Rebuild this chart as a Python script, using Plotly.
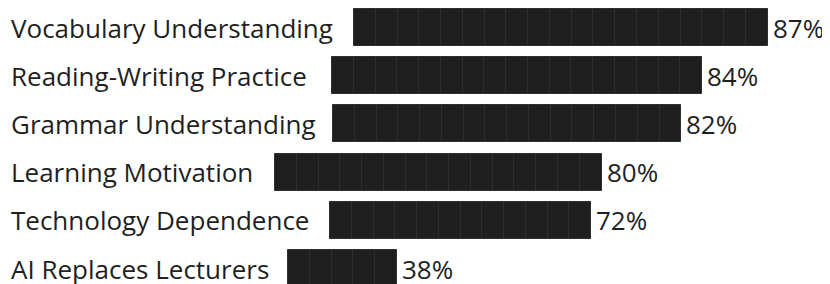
import plotly.graph_objects as go

# ---- data ----
categories = ["Vocabulary Understanding", "Reading-Writing Practice", "Grammar Understanding",
              "Learning Motivation", "Technology Dependence", "AI Replaces Lecturers"]
percent_values = [87, 84, 82, 80, 72, 38]
block_counts = [19, 17, 16, 15, 12, 5]   # number of block segments drawn in each bar
value_labels = [f"{v}%" for v in percent_values]

# ---- layout constants (pixels, window coordinates) ----
PAGE_OFF = 8                      # default body margin of the html page
W, H = 830 - PAGE_OFF, 284 - PAGE_OFF
BLOCK_PX = 21.77
bar_start_px = [354, 332, 333, 275, 330, 288]   # bar begins just after each label
ROW0_PX, ROW_PITCH = 27.5, 48.2
BAR_H_PX = 37
LABEL_X_PX = 8.5
FONT = "Open Sans"
FS = 26

def fx(px):
    return (px - PAGE_OFF) / BLOCK_PX

x_max = W / BLOCK_PX
y_top = -(ROW0_PX - PAGE_OFF) / ROW_PITCH
y_bot = (H - (ROW0_PX - PAGE_OFF)) / ROW_PITCH

ys, bases, xs = [], [], []
for i, n in enumerate(block_counts):
    start = fx(bar_start_px[i])
    for k in range(n):
        ys.append(i)
        bases.append(start + k)
        xs.append(1)

fig = go.Figure(go.Bar(
    y=ys, x=xs, base=bases, orientation="h",
    width=BAR_H_PX / ROW_PITCH,
    marker=dict(color="#1e1e1e", line=dict(color="#2e2e2e", width=1)),
    hoverinfo="skip", showlegend=False,
))

annotations = []
for i, cat in enumerate(categories):
    annotations.append(dict(x=fx(LABEL_X_PX), y=i, text=cat, xanchor="left", yanchor="middle",
                            showarrow=False, font=dict(family=FONT, size=FS, color="#1f1f1f")))
    end = fx(bar_start_px[i]) + block_counts[i]
    annotations.append(dict(x=end, y=i, text=value_labels[i], xanchor="left", yanchor="middle",
                            xshift=3, showarrow=False,
                            font=dict(family=FONT, size=FS, color="#1f1f1f")))

fig.update_layout(
    width=W, height=H, margin=dict(l=0, r=0, t=0, b=0),
    paper_bgcolor="white", plot_bgcolor="white",
    xaxis=dict(range=[0, x_max], visible=False, fixedrange=True),
    yaxis=dict(range=[y_bot, y_top], visible=False, fixedrange=True),
    annotations=annotations, bargap=0,
)
fig.write_html("out.html")
